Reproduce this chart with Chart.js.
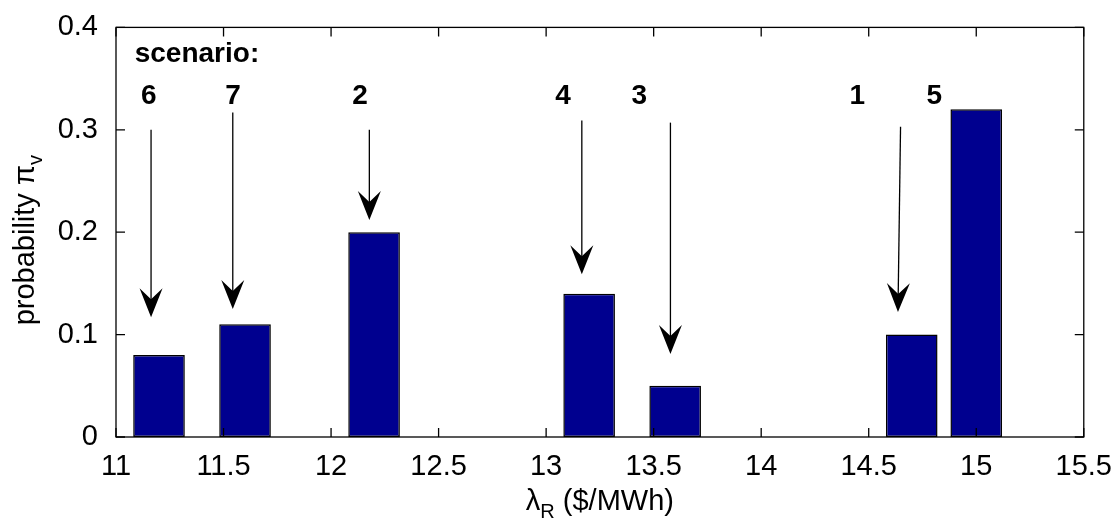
<!DOCTYPE html>
<html>
<head>
<meta charset="utf-8">
<script src="https://cdn.jsdelivr.net/npm/chart.js@4.4.1/dist/chart.umd.min.js"></script>
<style>
    html, body { margin: 0; padding: 0; background: #fff; }
    #wrap { width: 1117px; height: 525px; }
</style>
</head>
<body>
<div id="wrap"><canvas id="chart"></canvas></div>
<script>
// scenario prices (x) and probabilities (y)
const scenarioPrices = [11.2, 11.6, 12.2, 13.2, 13.6, 14.7, 15.0];
const probabilities = [0.08, 0.11, 0.2, 0.14, 0.05, 0.1, 0.32];

const xTicks = [11, 11.5, 12, 12.5, 13, 13.5, 14, 14.5, 15, 15.5];
const yTicks = [0, 0.1, 0.2, 0.3, 0.4];

// scenario number labels (data coords)
const scenarioIds = ['6', '7', '2', '4', '3', '1', '5'];
const labelX = [11.153, 11.544, 12.135, 13.079, 13.433, 14.447, 14.805];
const labelY = 0.333;

// arrows: from (arrowX, arrowTop) down to (tipX, arrowTip)
const arrowX = [11.163, 11.543, 12.178, 13.166, 13.578, 14.648];
const tipX = [11.163, 11.543, 12.178, 13.166, 13.578, 14.636];
const arrowTop = [0.300, 0.317, 0.300, 0.309, 0.307, 0.303];
const arrowTip = [0.117, 0.125, 0.212, 0.159, 0.081, 0.122];

const FONT = '"Liberation Sans", Arial, Helvetica, sans-serif';

// draws the box, inside ticks, annotations and axis titles
const decorPlugin = {
    id: 'decor',
    afterDatasetsDraw(chart) {
        const ctx = chart.ctx;
        const area = chart.chartArea;
        const xs = chart.scales.x;
        const ys = chart.scales.y;
        const tick = 9;

        ctx.save();
        ctx.strokeStyle = '#000';
        ctx.lineWidth = 1.3;
        ctx.strokeRect(area.left, area.top, area.right - area.left, area.bottom - area.top);

        ctx.beginPath();
        xTicks.forEach(v => {
            const px = xs.getPixelForValue(v);
            ctx.moveTo(px, area.bottom); ctx.lineTo(px, area.bottom - tick);
            ctx.moveTo(px, area.top); ctx.lineTo(px, area.top + tick);
        });
        yTicks.forEach(v => {
            const py = ys.getPixelForValue(v);
            ctx.moveTo(area.left, py); ctx.lineTo(area.left + tick, py);
            ctx.moveTo(area.right, py); ctx.lineTo(area.right - tick, py);
        });
        ctx.stroke();

        // scenario heading and numbers
        ctx.fillStyle = '#000';
        ctx.font = 'bold 28px ' + FONT;
        ctx.textBaseline = 'middle';
        ctx.textAlign = 'left';
        ctx.fillText('scenario:', xs.getPixelForValue(11.087), ys.getPixelForValue(0.374));
        ctx.textAlign = 'center';
        scenarioIds.forEach((id, i) => {
            ctx.fillText(id, xs.getPixelForValue(labelX[i]), ys.getPixelForValue(labelY));
        });

        // arrows
        ctx.lineWidth = 1.3;
        arrowX.forEach((x, i) => {
            const x0 = xs.getPixelForValue(x);
            const y0 = ys.getPixelForValue(arrowTop[i]);
            const x1 = xs.getPixelForValue(tipX[i]);
            const y1 = ys.getPixelForValue(arrowTip[i]);
            const ang = Math.atan2(y1 - y0, x1 - x0);
            ctx.beginPath();
            ctx.moveTo(x0, y0);
            ctx.lineTo(x1 - 15 * Math.cos(ang), y1 - 15 * Math.sin(ang));
            ctx.stroke();
            ctx.save();
            ctx.translate(x1, y1);
            ctx.rotate(ang - Math.PI / 2);
            ctx.beginPath();
            ctx.moveTo(0, 0);
            ctx.lineTo(-11.5, -29);
            ctx.lineTo(0, -18);
            ctx.lineTo(11.5, -29);
            ctx.closePath();
            ctx.fill();
            ctx.restore();
        });

        // x title: lambda_R ($/MWh)
        const big = '29px ' + FONT;
        const small = '20px ' + FONT;
        const parts = [['\u03bb', big, 0], ['R', small, 8], [' ($/MWh)', big, 0]];
        let total = 0;
        parts.forEach(p => { ctx.font = p[1]; total += ctx.measureText(p[0]).width; });
        let cx = (area.left + area.right) / 2 - total / 2;
        ctx.textAlign = 'left';
        ctx.textBaseline = 'alphabetic';
        parts.forEach(p => {
            ctx.font = p[1];
            ctx.fillText(p[0], cx, 510 + p[2]);
            cx += ctx.measureText(p[0]).width;
        });

        // y title: probability pi_v
        ctx.save();
        ctx.translate(34, (area.top + area.bottom) / 2);
        ctx.rotate(-Math.PI / 2);
        const yparts = [['probability \u03c0', big, 0], ['v', small, 8]];
        total = 0;
        yparts.forEach(p => { ctx.font = p[1]; total += ctx.measureText(p[0]).width; });
        cx = -total / 2 - 8;
        yparts.forEach(p => {
            ctx.font = p[1];
            ctx.fillText(p[0], cx, p[2]);
            cx += ctx.measureText(p[0]).width;
        });
        ctx.restore();

        ctx.restore();
    }
};

new Chart(document.getElementById('chart'), {
    type: 'bar',
    data: {
        datasets: [{
            data: scenarioPrices.map((x, i) => ({ x: x, y: probabilities[i] })),
            backgroundColor: '#00008F',
            borderColor: '#000000',
            borderWidth: 1.5,
            borderSkipped: false,
            barPercentage: 0.8,
            categoryPercentage: 1.0
        }]
    },
    options: {
        responsive: true,
        maintainAspectRatio: false,
        animation: false,
        layout: { padding: { top: 23, right: 33, left: 0, bottom: 0 } },
        plugins: {
            legend: { display: false },
            tooltip: { enabled: false },
            title: { display: false }
        },
        scales: {
            x: {
                type: 'linear',
                min: 11,
                max: 15.5,
                offset: false,
                grid: { display: false, offset: false },
                border: { display: false },
                afterBuildTicks: scale => { scale.ticks = xTicks.map(v => ({ value: v })); },
                afterFit: scale => { scale.height = 88; },
                ticks: {
                    color: '#000',
                    padding: 5,
                    maxRotation: 0,
                    font: { family: FONT, size: 29 },
                    callback: v => String(v)
                }
            },
            y: {
                min: 0,
                max: 0.4,
                grid: { display: false },
                border: { display: false },
                afterBuildTicks: scale => { scale.ticks = yTicks.map(v => ({ value: v })); },
                afterFit: scale => { scale.width = 116; },
                ticks: {
                    color: '#000',
                    padding: 10,
                    font: { family: FONT, size: 29 },
                    callback: v => String(v)
                }
            }
        }
    },
    plugins: [decorPlugin]
});
</script>
</body>
</html>
